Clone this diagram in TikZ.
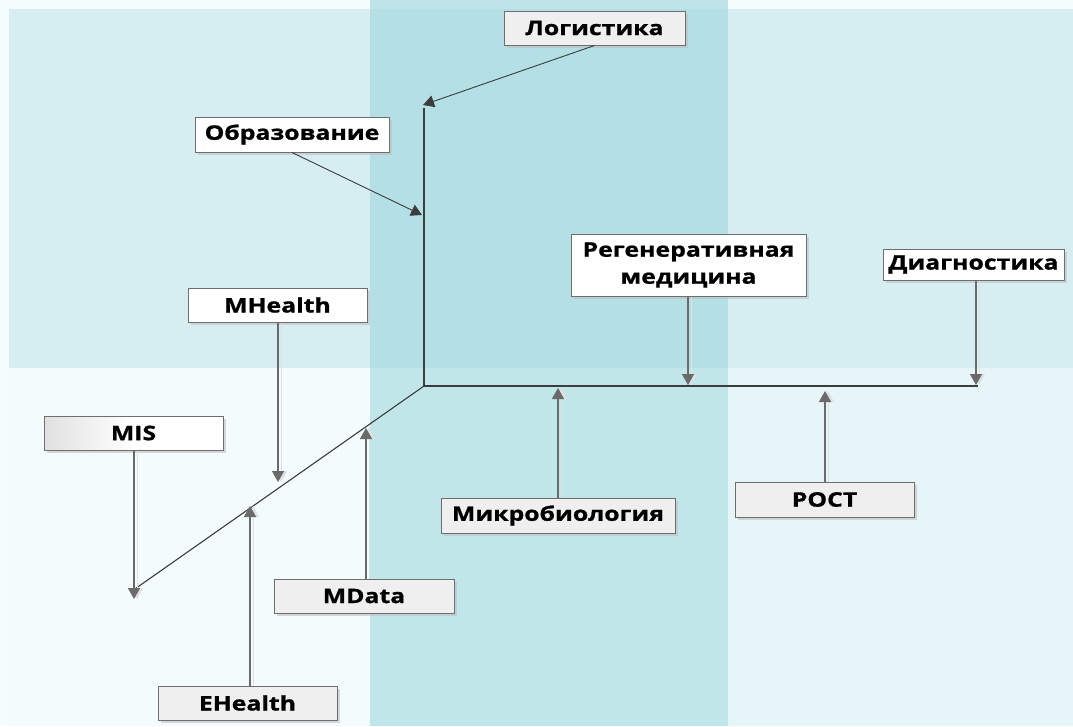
\documentclass[tikz,border=0pt]{standalone}
\usepackage{fontspec}
\setmainfont{Open Sans}[FakeStretch=1.24, BoldFeatures={FakeBold=1}]
\usetikzlibrary{arrows.meta,shadows}
\definecolor{bgTop}{HTML}{D6EEF2}
\definecolor{bgBotL}{HTML}{F4FBFC}
\definecolor{bgBotR}{HTML}{E6F5F7}
\definecolor{bgMidT}{HTML}{B3DFE5}
\definecolor{bgMidB}{HTML}{C0E6EA}
\definecolor{bgMidS}{HTML}{BEE4E9}
\definecolor{bgStrip}{HTML}{F5FCFD}
\definecolor{boxgray}{HTML}{EFEFEF}
\definecolor{boxline}{HTML}{6E6E6E}
\definecolor{spine}{HTML}{3C3C3C}
\definecolor{conn}{HTML}{6A6A6A}
\tikzset{
  box/.style={draw=boxline, line width=1pt, inner sep=0pt, font=\fontsize{20}{27}\selectfont\bfseries,
    text=black, align=center,
    drop shadow={shadow xshift=3pt, shadow yshift=-3pt, fill=black!25, opacity=0.6}},
  whitebox/.style={box, fill=white},
  graybox/.style={box, fill=boxgray},
  tip/.style={-{Triangle[length=11pt,width=12pt]}},
  spineline/.style={draw=spine, line width=1.6pt},
  diagline/.style={draw=spine, line width=1.1pt},
  feed/.style={tip, draw=conn, line width=1.4pt,
    preaction={draw=black!12, line width=1pt, transform canvas={xshift=3pt}}},
  slant/.style={tip, draw=spine, line width=0.9pt},
}
\begin{document}
\begin{tikzpicture}[x=1pt,y=-1pt]
\useasboundingbox (0,0) rectangle (1073,726);
% background panels
\fill[bgStrip] (0,0) rectangle (1073,726);
\fill[bgTop] (9,9) rectangle (370,368);
\fill[bgBotL] (9,368) rectangle (370,726);
\fill[bgTop] (728,9) rectangle (1073,368);
\fill[bgBotR] (728,368) rectangle (1073,726);
\fill[bgMidS] (370,0) rectangle (728,9);
\fill[bgMidT] (370,9) rectangle (728,368);
\fill[bgMidB] (370,368) rectangle (728,726);

% spine coordinates
\coordinate (top) at (424,108);
\coordinate (hub) at (424,386);
\coordinate (rend) at (978,386);
\coordinate (dend) at (132,591);
\draw[spineline] (top) -- (hub) -- (rend);
\draw[diagline] (hub) -- (dend);

% targets on spine
\coordinate (tLog) at (423,105);
\coordinate (tObr) at (422,215);
\coordinate (tReg) at (688,385);
\coordinate (tDia) at (976,385);
\coordinate (tMH) at (278,482);
\coordinate (tMIS) at (134,599);
\coordinate (tMD) at (366,428);
\coordinate (tEH) at (250,506);
\coordinate (tMik) at (558,388);
\coordinate (tRost) at (825,391);

% nodes
\node[graybox, minimum width=181pt, minimum height=34pt] (log) at (594.5,28) {Логистика};
\node[whitebox, minimum width=194pt, minimum height=35pt] (obr) at (292,134.5) {Образование};
\node[whitebox, minimum width=235pt, minimum height=62pt] (reg) at (688.5,265) {Регенеративная\\медицина};
\node[whitebox, minimum width=181pt, minimum height=31pt] (dia) at (973.5,264.5) {Диагностика};
\node[whitebox, minimum width=179pt, minimum height=34pt] (mh) at (277.5,305) {MHealth};
\node[box, left color=black!12, right color=white, middle color=white, minimum width=179pt, minimum height=34pt] (mis) at (133.5,433) {MIS};
\node[graybox, minimum width=180pt, minimum height=34pt] (md) at (364,596) {MData};
\node[graybox, minimum width=179pt, minimum height=34pt] (eh) at (247.5,703) {EHealth};
\node[graybox, minimum width=234pt, minimum height=35pt] (mik) at (558,515.5) {Микробиология};
\node[graybox, minimum width=179pt, minimum height=35pt] (rost) at (824.5,499.5) {РОСТ};

% connectors
\draw[slant] (log.south) -- (tLog);
\draw[slant] (obr.south) -- (tObr);
\draw[feed] (reg.south -| tReg) -- (tReg);
\draw[feed] (dia.south -| tDia) -- (tDia);
\draw[feed] (mh.south -| tMH) -- (tMH);
\draw[feed] (mis.south -| tMIS) -- (tMIS);
\draw[feed] (md.north -| tMD) -- (tMD);
\draw[feed] (eh.north -| tEH) -- (tEH);
\draw[feed] (mik.north -| tMik) -- (tMik);
\draw[feed] (rost.north -| tRost) -- (tRost);
\end{tikzpicture}
\end{document}
